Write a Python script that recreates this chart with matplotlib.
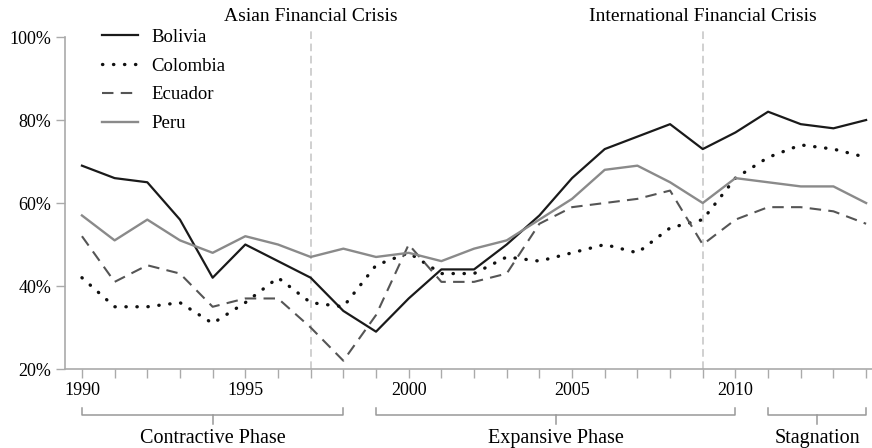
import matplotlib
matplotlib.use("Agg")
import matplotlib.pyplot as plt

years = list(range(1990, 2015))

bolivia = [69, 66, 65, 56, 42, 50, 46, 42, 34, 29, 37, 44, 44, 50, 57, 66, 73, 76, 79, 73, 77, 82, 79, 78, 80]
colombia = [42, 35, 35, 36, 31, 36, 42, 36, 35, 45, 48, 43, 43, 47, 46, 48, 50, 48, 54, 56, 66, 71, 74, 73, 71]
ecuador = [52, 41, 45, 43, 35, 37, 37, 30, 22, 33, 50, 41, 41, 43, 55, 59, 60, 61, 63, 50, 56, 59, 59, 58, 55]
peru = [57, 51, 56, 51, 48, 52, 50, 47, 49, 47, 48, 46, 49, 51, 56, 61, 68, 69, 65, 60, 66, 65, 64, 64, 60]

crises = [(1997, "Asian Financial Crisis"), (2009, "International Financial Crisis")]
phases = [(1990, 1998, "Contractive Phase"), (1999, 2010, "Expansive Phase"), (2011, 2014, "Stagnation")]

plt.rcParams["font.family"] = ["Liberation Serif", "DejaVu Serif"]

fig = plt.figure(figsize=(8.72, 4.48), dpi=100)
ax = fig.add_axes([0.0745, 0.1763, 0.9255, 0.7596])

ax.plot(years, bolivia, color="#1a1a1a", lw=1.6, label="Bolivia")
ax.plot(years, colombia, color="#111111", lw=2.4, linestyle=(0, (0.1, 3.2)),
        dash_capstyle="round", label="Colombia")
ax.plot(years, ecuador, color="#555555", lw=1.5, linestyle=(0, (5.5, 3.5)), label="Ecuador")
ax.plot(years, peru, color="#8a8a8a", lw=1.7, label="Peru")

ax.set_xlim(1989.48, 2014.18)
ax.set_ylim(20, 102)

# crisis markers
for yr, name in crises:
    ax.axvline(yr, color="#c4c4c4", lw=1.1, linestyle=(0, (5, 3)), zorder=0)
    ax.text(yr, 103.0, name, ha="center", va="bottom", fontsize=14, clip_on=False)

for s in ["top", "right"]:
    ax.spines[s].set_visible(False)
for s in ["left", "bottom"]:
    ax.spines[s].set_color("#aaaaaa")
    ax.spines[s].set_linewidth(1.2)
ax.spines["left"].set_bounds(20, 100)

ax.set_yticks([20, 40, 60, 80, 100])
ax.set_yticklabels([f"{v}%" for v in [20, 40, 60, 80, 100]], fontsize=13)
ax.set_xticks(years)
ax.set_xticklabels([str(y) if y % 5 == 0 else "" for y in years], fontsize=13)
ax.tick_params(axis="both", color="#aaaaaa", width=1.0, length=6.5)
ax.tick_params(axis="x", pad=3)

# phase brackets under the axis
bk = dict(color="#999999", lw=1.1, clip_on=False)
for x0, x1, name in phases:
    mid = (x0 + x1) / 2
    ax.plot([x0, x0, x1, x1], [10.7, 8.9, 8.9, 10.7], **bk)
    ax.plot([mid, mid], [8.9, 6.8], **bk)
    ax.text(mid, 3.2, name, ha="center", va="center", fontsize=14.5, clip_on=False)

ax.legend(loc="upper left", bbox_to_anchor=(0.0458, 1.0), frameon=False, fontsize=13.5,
          borderpad=0, borderaxespad=0, handlelength=1.9, handletextpad=0.75,
          labelspacing=0.62)

fig.savefig("out.png", dpi=100)
